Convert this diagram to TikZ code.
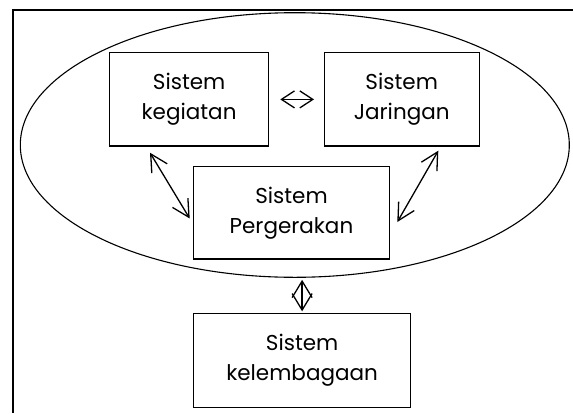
\documentclass[tikz,border=0pt]{standalone}
\usepackage{fontspec}
\setmainfont{Poppins}
\usetikzlibrary{shapes.geometric, arrows.meta, calc}

\tikzset{
	sysbox/.style={draw, line width=1.4pt, inner sep=0pt, align=center, font=\fontsize{21.5}{30}\selectfont},
	biarrow/.style={line width=1.3pt, {Straight Barb[length=17pt, width=18pt]}-{Straight Barb[length=17pt, width=18pt]}},
}

\begin{document}
\begin{tikzpicture}[x=1pt, y=-1pt]

	\useasboundingbox (0,0) rectangle (573,413);
	\draw[line width=1.5pt] (13,413) -- (13,10) -- (573,10);

	\node[draw, ellipse, line width=1.1pt, minimum width=549pt, minimum height=264.6pt, inner sep=0pt] (sys) at (294.8,145) {};

	\node[sysbox, minimum width=159pt, minimum height=93.3pt] (keg) at (189.1,99.4) {Sistem\\kegiatan};
	\node[sysbox, minimum width=155pt, minimum height=93.3pt] (jar) at (401.7,99.4) {Sistem\\Jaringan};
	\node[sysbox, minimum width=195.6pt, minimum height=92.3pt] (perg) at (291.5,212.9) {Sistem\\Pergerakan};
	\node[sysbox, minimum width=216.8pt, minimum height=94pt] (kel) at (302.1,360.3) {Sistem\\kelembagaan};

	\coordinate (kp1) at (150,152.7);
	\coordinate (kp2) at (189.7,218.5);
	\coordinate (jp1) at (438.3,150.7);
	\coordinate (jp2) at (397.3,222);

	\draw[biarrow, {Straight Barb[length=13pt, width=17pt]}-{Straight Barb[length=13pt, width=17pt]}, shorten <=11pt, shorten >=9.5pt] (keg.east) -- (jar.west);
	\draw[biarrow] (kp1) -- (kp2);
	\draw[biarrow] (jp1) -- (jp2);
	\draw[biarrow, {Straight Barb[length=16.5pt, width=20pt]}-{Straight Barb[length=16.5pt, width=20pt]}, shorten <=2pt, shorten >=1.3pt] (kel.north |- sys.south) -- (kel.north);
\end{tikzpicture}
\end{document}
